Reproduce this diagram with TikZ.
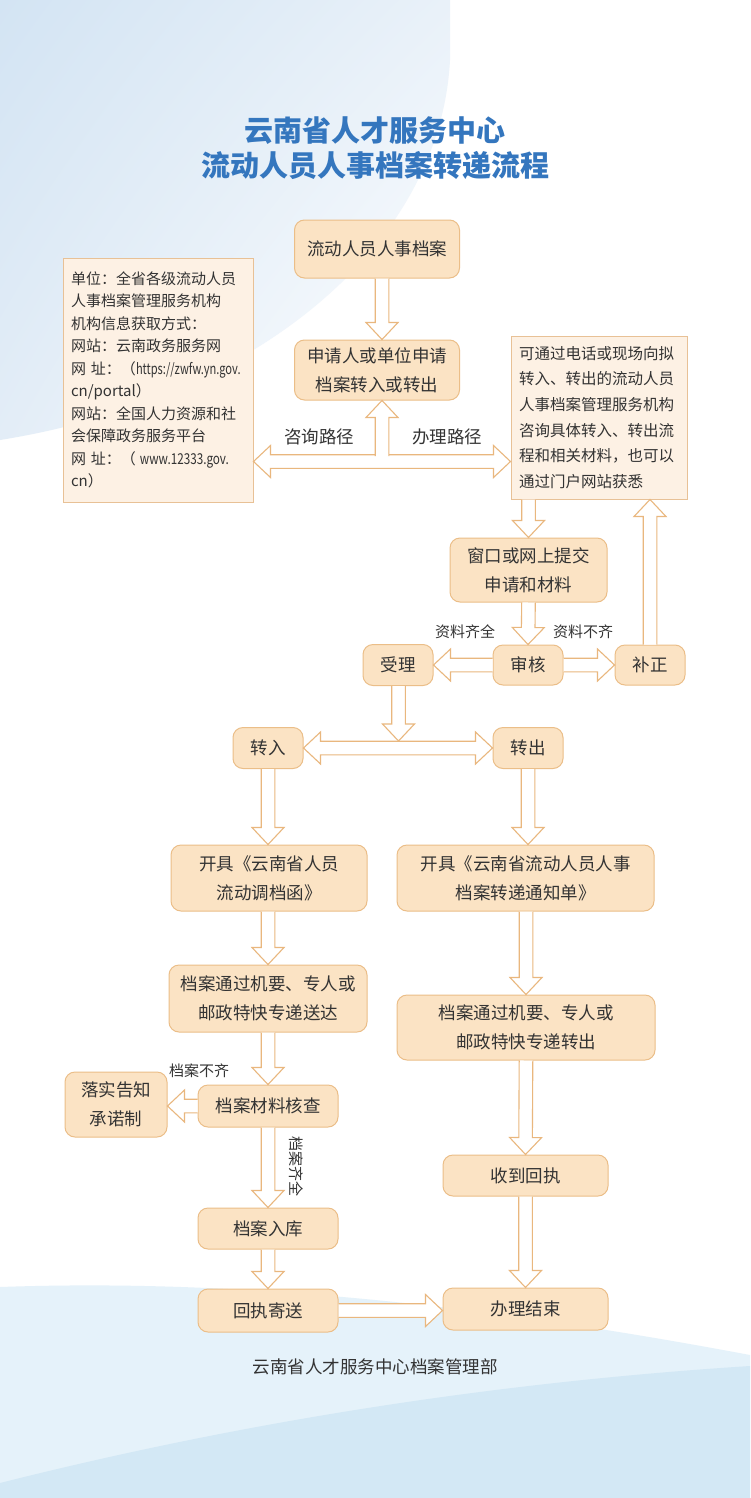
\documentclass[tikz,border=0pt]{standalone}
\usepackage{fontspec}
\usepackage{graphicx}
\setmainfont{Noto Sans CJK SC}
\usetikzlibrary{calc,shadings}
\definecolor{boxfill}{HTML}{FBE3C4}
\definecolor{boxline}{HTML}{EBBE88}
\definecolor{notefill}{HTML}{FDF1E4}
\definecolor{noteline}{HTML}{E8C196}
\definecolor{arrowline}{HTML}{E9B77E}
\definecolor{txt}{HTML}{333333}
\definecolor{titleblue}{RGB}{52,118,190}
\definecolor{bgtl}{HTML}{D3E4F3}
\definecolor{bgtr}{HTML}{E9F1F9}
\definecolor{bgbl}{HTML}{E3EDF7}
\definecolor{wavea}{HTML}{E5F2FA}
\definecolor{waveb}{HTML}{D3E8F5}
\newcommand{\stemw}{6.8pt}
\newcommand{\headw}{16pt}
\newcommand{\headl}{17pt}
\begin{document}
\begin{tikzpicture}[x=1pt, y=-1pt,
	flowbox/.style={draw=boxline, line width=1pt, fill=boxfill, rounded corners=10pt, align=center, text=txt, inner sep=0pt, font=\fontsize{17.5}{29}\selectfont},
	notebox/.style={draw=noteline, line width=1pt, fill=notefill, align=left, text=txt, inner sep=0pt},
	tag/.style={text=txt, font=\fontsize{15}{18}\selectfont},
	hollowarrow/.style={draw=arrowline, line width=1.1pt, fill=white, line join=miter},
	hollow/.style={to path={
		($(\tikztotarget)!\headl!(\tikztostart)$) coordinate (hb)
		($(\tikztostart)!\stemw!90:(\tikztotarget)$) -- ($(hb)!\stemw!90:(\tikztotarget)$) -- ($(hb)!\headw!90:(\tikztotarget)$)
		-- (\tikztotarget) -- ($(hb)!\headw!-90:(\tikztotarget)$) -- ($(hb)!\stemw!-90:(\tikztotarget)$) -- ($(\tikztostart)!\stemw!-90:(\tikztotarget)$)}},
	hollowtwo/.style={to path={
		($(\tikztostart)!\headl!(\tikztotarget)$) coordinate (ha)
		($(\tikztotarget)!\headl!(\tikztostart)$) coordinate (hb)
		(\tikztostart) -- ($(ha)!\headw!90:(\tikztotarget)$) -- ($(ha)!\stemw!90:(\tikztotarget)$) -- ($(hb)!\stemw!90:(\tikztotarget)$) -- ($(hb)!\headw!90:(\tikztotarget)$)
		-- (\tikztotarget) -- ($(hb)!\headw!-90:(\tikztotarget)$) -- ($(hb)!\stemw!-90:(\tikztotarget)$) -- ($(ha)!\stemw!-90:(\tikztotarget)$) -- ($(ha)!\headw!-90:(\tikztotarget)$) -- cycle}}]
	\useasboundingbox (0,0) rectangle (750,1498);
	\fill[white] (0,0) rectangle (750,1498);
	\shade[upper left=bgtl, upper right=bgtr, lower left=bgbl, lower right=white] (0,0) -- (450,0) -- (450,60) .. controls (440,250) and (250,400) .. (0,440) -- cycle;
	\fill[wavea] (0,1287) .. controls (250,1278) and (500,1308) .. (750,1355) -- (750,1498) -- (0,1498) -- cycle;
	\fill[waveb] (0,1483) .. controls (250,1420) and (500,1382) .. (750,1366) -- (750,1498) -- (0,1498) -- cycle;

	\node[text=titleblue, align=center, font=\fontsize{29}{35}\selectfont\bfseries] (title) at (375,148.5) {云南省人才服务中心\\流动人员人事档案转递流程};

	\node[flowbox, minimum width=165pt, minimum height=58pt] (head) at (377,249) {流动人员人事档案};
	\node[flowbox, minimum width=165pt, minimum height=60pt] (apply) at (377,370) {申请人或单位申请\\档案转入或转出};
	\node[notebox, minimum width=190pt, minimum height=244pt, text width=174pt, font=\fontsize{15}{22.5}\selectfont] (info) at (158,380) {单位：全省各级流动人员\\人事档案管理服务机构\\机构信息获取方式：\\网站：云南政务服务网\\网 址：（\scalebox{0.74}[1]{https://zwfw.yn.gov.}\\cn/portal）\\网站：全国人力资源和社\\会保障政务服务平台\\网 址：（\scalebox{0.78}[1]{ www.12333.gov.}\\cn）};
	\node[notebox, minimum width=176pt, minimum height=163pt, text width=160pt, font=\fontsize{15.5}{25.6}\selectfont] (consult) at (599,417.5) {可通过电话或现场向拟\\转入、转出的流动人员\\人事档案管理服务机构\\咨询具体转入、转出流\\程和相关材料，也可以\\通过门户网站获悉};
	\node[flowbox, minimum width=157pt, minimum height=64pt] (submit) at (528.5,570) {窗口或网上提交\\申请和材料};
	\node[flowbox, minimum width=70pt, minimum height=40pt] (review) at (528,665) {审核};
	\node[flowbox, minimum width=70pt, minimum height=41pt] (accept) at (398,665) {受理};
	\node[flowbox, minimum width=70pt, minimum height=40pt] (fix) at (650,665) {补正};
	\node[flowbox, minimum width=70pt, minimum height=41pt] (tin) at (268,748) {转入};
	\node[flowbox, minimum width=70pt, minimum height=41pt] (tout) at (528,748) {转出};
	\node[flowbox, minimum width=196pt, minimum height=66pt] (letter) at (269,878) {开具《云南省人员\\流动调档函》};
	\node[flowbox, minimum width=257pt, minimum height=66pt] (notice) at (525.5,878) {开具《云南省流动人员人事\\档案转递通知单》};
	\node[flowbox, minimum width=198pt, minimum height=67pt] (sendin) at (268,998.5) {档案通过机要、专人或\\邮政特快专递送达};
	\node[flowbox, minimum width=258pt, minimum height=65pt] (sendout) at (526,1027.5) {档案通过机要、专人或\\邮政特快专递转出};
	\node[flowbox, minimum width=140pt, minimum height=42pt] (check) at (268,1106) {档案材料核查};
	\node[flowbox, minimum width=102pt, minimum height=65pt] (promise) at (116,1104.5) {落实告知\\承诺制};
	\node[flowbox, minimum width=140pt, minimum height=41pt] (store) at (268,1228.5) {档案入库};
	\node[flowbox, minimum width=165pt, minimum height=41pt] (receipt) at (525.5,1175.5) {收到回执};
	\node[flowbox, minimum width=140pt, minimum height=43pt] (mail) at (268,1310.5) {回执寄送};
	\node[flowbox, minimum width=165pt, minimum height=42pt] (done) at (525.5,1309) {办理结束};

	\coordinate (fork) at (382,461.5);
	\coordinate (stem) at (382,456);
	\draw[hollowarrow] (head.south -| stem) to[hollow] (apply.north -| stem);
	\draw[hollowarrow] (info.east |- fork) to[hollowtwo] (consult.west |- fork);
	\draw[hollowarrow] (stem) to[hollow] (apply.south -| stem);
	\node[text=txt, font=\fontsize{17.5}{20}\selectfont] (ask) at (319,437) {咨询路径};
	\node[text=txt, font=\fontsize{17.5}{20}\selectfont] (handle) at (447,437) {办理路径};

	\draw[hollowarrow] (submit.north |- consult.south) to[hollow] (submit.north);
	\draw[hollowarrow] (fix.north) to[hollow] (fix.north |- consult.south);
	\draw[hollowarrow] (submit.south) to[hollow] (review.north);
	\draw[hollowarrow] (review.west) to[hollow] (accept.east);
	\draw[hollowarrow] (review.east) to[hollow] (fix.west);
	\node[tag] (full) at (465,632) {资料齐全};
	\node[tag] (lack) at (583,632) {资料不齐};

	\coordinate (split) at (398.5,741);
	\draw[hollowarrow] (accept.south -| split) to[hollow] (split);
	\draw[hollowarrow] (tin.east) to[hollowtwo] (tout.west);
	\draw[hollowarrow] (tin.south) to[hollow] (letter.north -| tin.south);
	\draw[hollowarrow] (tout.south) to[hollow] (notice.north -| tout.south);
	\draw[hollowarrow] (letter.south -| sendin.north) to[hollow] (sendin.north);
	\draw[hollowarrow] (notice.south -| sendout.north) to[hollow] (sendout.north);
	\draw[hollowarrow] (sendin.south) to[hollow] (check.north);
	\draw[hollowarrow] (check.west) to[hollow] (promise.east |- check.west);
	\draw[hollowarrow] (check.south) to[hollow] (store.north);
	\node[tag] (short) at (199,1071) {档案不齐};
	\node[tag, rotate=-90] (whole) at (296,1166) {档案齐全};
	\draw[hollowarrow] (store.south) to[hollow] (mail.north);
	\draw[hollowarrow] (sendout.south) to[hollow] (receipt.north);
	\draw[hollowarrow] (receipt.south) to[hollow] (done.north);
	\draw[hollowarrow] (mail.east) to[hollow] (done.west |- mail.east);

	\node[text=txt, font=\fontsize{17.5}{20}\selectfont] (dept) at (375,1367) {云南省人才服务中心档案管理部};
\end{tikzpicture}
\end{document}
